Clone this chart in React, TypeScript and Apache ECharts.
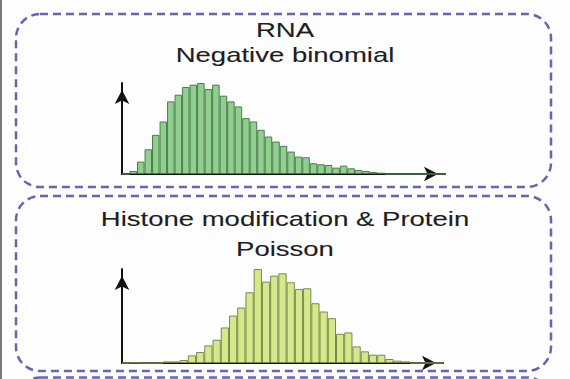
import React, { useEffect, useRef } from "react";
import * as echarts from "echarts";

// Data
const topBins: string[] = Array.from({ length: 43 }, (_, i) => String(i));
const topCounts: number[] = [
  0, 9, 37, 74, 117, 157, 217, 237, 260, 267, 272, 254, 267, 234, 217, 202, 167,
  157, 132, 112, 97, 84, 67, 52, 50, 32, 29, 27, 19, 25, 17, 12, 9, 6, 4,
  0, 0, 0, 0, 0, 0, 0, 0,
];
const bottomBins: string[] = Array.from({ length: 39 }, (_, i) => String(i));
const bottomCounts: number[] = [
  0, 1, 0, 0, 0, 5, 5, 9, 23, 33, 53, 70, 107, 143, 167, 213, 283, 245, 263,
  270, 243, 223, 225, 180, 155, 135, 88, 92, 50, 35, 25, 25, 12, 7, 5,
  0, 0, 0, 0,
];
const titles: string[] = ["RNA", "Negative binomial", "Histone modification & Protein", "Poisson"];

const FONT = '"Liberation Sans", Arial, sans-serif';
const DASH = "#6a64b0";

export default function App() {
  const ref = useRef<HTMLDivElement>(null);
  useEffect(() => {
    if (!ref.current) return;
    const chart = echarts.init(ref.current, null, { renderer: "svg" });
    const axisLine = (show: boolean) => ({
      show,
      lineStyle: { color: "#111", width: 2 },
      symbol: ["none", "arrow"],
      symbolSize: [11, 14],
      symbolOffset: [0, -7],
    });
    const textEl = (txt: string, y: number) => ({
      type: "text",
      x: 285,
      y,
      scaleX: 1.31,
      style: {
        text: txt,
        fill: "#1e1e1e",
        font: `21px ${FONT}`,
        textAlign: "center",
        textVerticalAlign: "bottom",
        stroke: "#1e1e1e",
        lineWidth: 0.12,
      },
      z: 10,
    });
    chart.setOption({
      animation: false,
      backgroundColor: "#fdfdfd",
      grid: [
        { left: 122, top: 83, width: 323, height: 91 },
        { left: 122, top: 269, width: 321, height: 94 },
      ],
      xAxis: [
        {
          gridIndex: 0,
          type: "category",
          data: topBins,
          axisLine: axisLine(true),
          axisTick: { show: false },
          axisLabel: { show: false },
        },
        {
          gridIndex: 1,
          type: "category",
          data: bottomBins,
          axisLine: axisLine(true),
          axisTick: { show: false },
          axisLabel: { show: false },
        },
      ],
      yAxis: [
        {
          gridIndex: 0,
          type: "value",
          min: 0,
          max: 272,
          axisLine: axisLine(true),
          axisTick: { show: false },
          axisLabel: { show: false },
          splitLine: { show: false },
        },
        {
          gridIndex: 1,
          type: "value",
          min: 0,
          max: 283,
          axisLine: axisLine(true),
          axisTick: { show: false },
          axisLabel: { show: false },
          splitLine: { show: false },
        },
      ],
      series: [
        {
          type: "bar",
          xAxisIndex: 0,
          yAxisIndex: 0,
          data: topCounts,
          barCategoryGap: "0%",
          itemStyle: { color: "#8fd08f", borderColor: "#4d7a4d", borderWidth: 1 },
          z: 1,
        },
        {
          type: "bar",
          xAxisIndex: 1,
          yAxisIndex: 1,
          data: bottomCounts,
          barCategoryGap: "0%",
          itemStyle: { color: "#d5e88a", borderColor: "#7b8a4c", borderWidth: 1 },
          z: 1,
        },
      ],
      graphic: [
        { type: "rect", shape: { x: 0, y: 0, width: 2, height: 379 }, style: { fill: "#7a7a7a" } },
        {
          type: "rect",
          shape: { x: 16, y: 14, width: 535, height: 173, r: 24 },
          style: { fill: "none", stroke: DASH, lineWidth: 2.5, lineDash: [8, 5] },
        },
        {
          type: "rect",
          shape: { x: 16, y: 196, width: 535, height: 175, r: 24 },
          style: { fill: "none", stroke: DASH, lineWidth: 2.5, lineDash: [8, 5] },
        },
        {
          type: "rect",
          shape: { x: 16, y: 377.5, width: 535, height: 120, r: 24 },
          style: { fill: "none", stroke: DASH, lineWidth: 2.5, lineDash: [8, 5] },
        },
        textEl(titles[0], 40),
        textEl(titles[1], 65),
        textEl(titles[2], 229),
        textEl(titles[3], 259),
      ],
    });
    return () => chart.dispose();
  }, []);
  return (
    <div
      ref={ref}
      style={{ position: "absolute", left: 0, top: 0, width: 570, height: 379 }}
    />
  );
}
